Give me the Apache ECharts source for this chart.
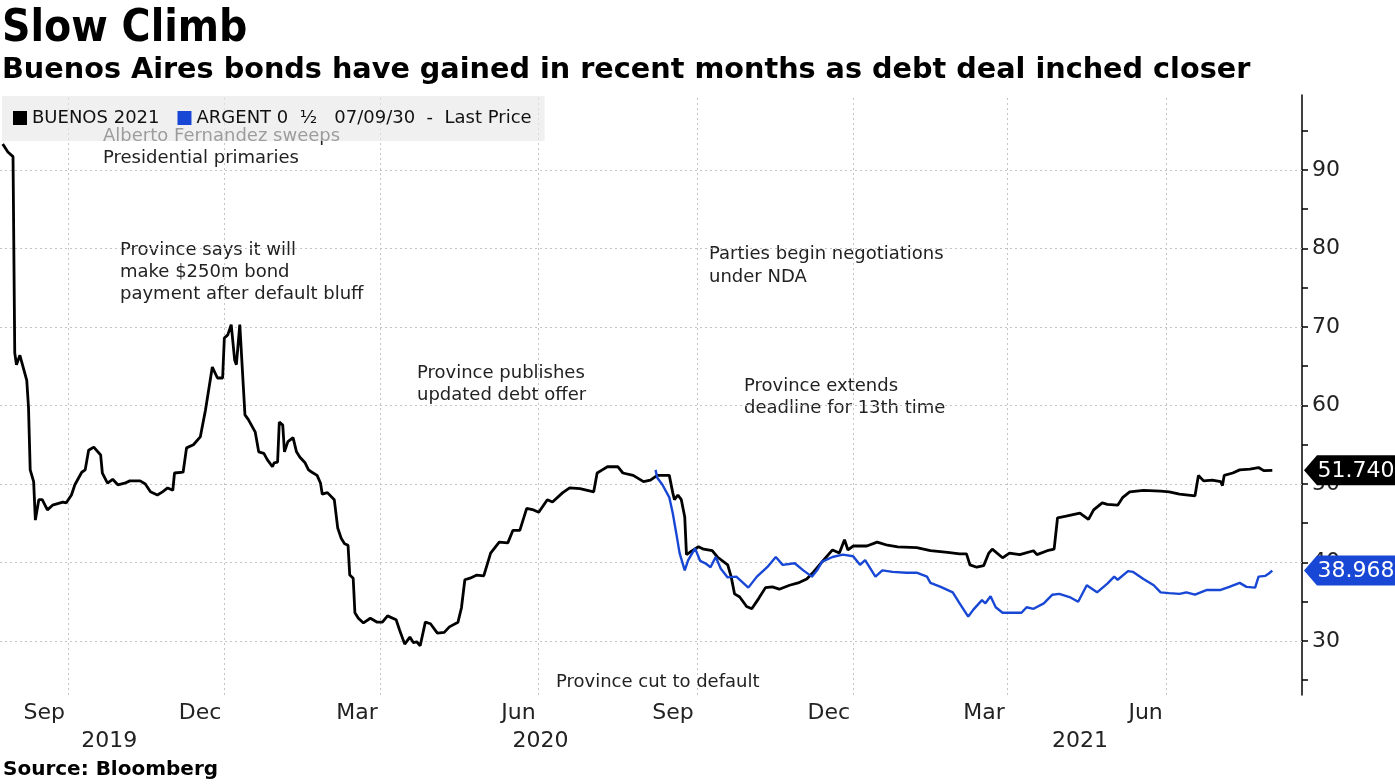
<!DOCTYPE html>
<html><head><meta charset="utf-8">
<script src="https://cdn.jsdelivr.net/npm/echarts@6/dist/echarts.min.js"></script>
<style>html,body{margin:0;padding:0;background:#fff}#c{width:1395px;height:784px}</style>
</head><body><div id="c"></div>
<script>
// ---------- DATA ----------
const buenosDates = [
'2019-07-25','2019-07-28','2019-07-31','2019-08-01','2019-08-02','2019-08-04','2019-08-08','2019-08-09','2019-08-10','2019-08-12',
'2019-08-13','2019-08-15','2019-08-17','2019-08-20','2019-08-23','2019-08-29','2019-08-31','2019-09-03','2019-09-05','2019-09-09',
'2019-09-11','2019-09-13','2019-09-16','2019-09-20','2019-09-21','2019-09-24','2019-09-27','2019-09-30','2019-10-04','2019-10-07',
'2019-10-13','2019-10-16','2019-10-19','2019-10-23','2019-10-26','2019-10-29','2019-11-01','2019-11-02','2019-11-07','2019-11-09',
'2019-11-13','2019-11-17','2019-11-20','2019-11-21','2019-11-24','2019-11-27','2019-11-30','2019-12-01','2019-12-03','2019-12-05',
'2019-12-07','2019-12-08','2019-12-10','2019-12-13','2019-12-15','2019-12-19','2019-12-21','2019-12-24','2019-12-26','2019-12-29',
'2019-12-30','2020-01-01','2020-01-02','2020-01-04','2020-01-05','2020-01-07','2020-01-10','2020-01-12','2020-01-14','2020-01-17',
'2020-01-19','2020-01-21','2020-01-24','2020-01-26','2020-01-27','2020-01-30','2020-02-03','2020-02-05','2020-02-07','2020-02-09',
'2020-02-11','2020-02-12','2020-02-14','2020-02-15','2020-02-17','2020-02-20','2020-02-24','2020-02-28','2020-03-02','2020-03-05',
'2020-03-10','2020-03-12','2020-03-15','2020-03-18','2020-03-20','2020-03-22','2020-03-24','2020-03-27','2020-03-30','2020-04-03',
'2020-04-07','2020-04-10','2020-04-15','2020-04-17','2020-04-19','2020-04-22','2020-04-26','2020-04-30','2020-05-04','2020-05-09',
'2020-05-14','2020-05-17','2020-05-21','2020-05-25','2020-05-29','2020-06-01','2020-06-06','2020-06-09','2020-06-15','2020-06-19',
'2020-06-25','2020-07-03','2020-07-05','2020-07-08','2020-07-11','2020-07-17','2020-07-20','2020-07-26','2020-08-01','2020-08-05',
'2020-08-09','2020-08-16','2020-08-18','2020-08-19','2020-08-21','2020-08-23','2020-08-25','2020-08-26','2020-08-28','2020-09-02',
'2020-09-05','2020-09-10','2020-09-13','2020-09-19','2020-09-21','2020-09-23','2020-09-26','2020-09-30','2020-10-03','2020-10-07',
'2020-10-11','2020-10-15','2020-10-19','2020-10-25','2020-10-30','2020-11-04','2020-11-08','2020-11-13','2020-11-19','2020-11-23',
'2020-11-26','2020-11-28','2020-12-01','2020-12-09','2020-12-15','2020-12-21','2020-12-27','2021-01-07','2021-01-15','2021-01-25',
'2021-02-01','2021-02-05','2021-02-07','2021-02-11','2021-02-15','2021-02-18','2021-02-20','2021-02-26','2021-03-02','2021-03-08',
'2021-03-16','2021-03-18','2021-03-24','2021-03-28','2021-03-30','2021-04-04','2021-04-12','2021-04-17','2021-04-20','2021-04-25',
'2021-04-28','2021-05-04','2021-05-07','2021-05-11','2021-05-19','2021-05-29','2021-06-03','2021-06-09','2021-06-18','2021-06-20',
'2021-06-23','2021-06-28','2021-07-03','2021-07-04','2021-07-05','2021-07-10','2021-07-14','2021-07-20','2021-07-25','2021-07-28',
'2021-08-02'
];
const buenosValues = [
93.3,92.3,91.7,66.7,65.2,66.4,63.2,59.8,51.8,50.3,
45.4,48.0,48.0,46.7,47.3,47.7,47.6,48.6,49.9,51.5,
51.8,54.3,54.7,53.7,51.4,50.1,50.6,49.9,50.1,50.4,
50.4,50.0,49.0,48.6,49.0,49.5,49.2,51.4,51.5,54.6,
55.0,56.0,59.4,59.2,64.9,63.5,63.5,68.6,69.0,70.3,
65.8,65.2,70.3,58.8,58.2,56.6,54.1,53.9,53.1,52.2,
52.7,52.8,57.9,57.5,54.1,55.4,55.9,54.1,53.4,52.7,
51.8,51.5,51.1,50.1,48.7,48.9,48.0,44.4,43.1,42.4,
42.2,38.4,38.0,33.6,32.9,32.3,32.9,32.4,32.4,33.2,
32.7,31.4,29.6,30.5,29.8,29.9,29.4,32.4,32.2,31.0,
31.1,31.8,32.4,34.2,37.8,38.0,38.4,38.3,41.2,42.6,
42.5,44.1,44.1,46.9,46.7,46.4,48.0,47.7,48.9,49.5,
49.4,49.0,51.4,51.8,52.2,52.2,51.4,51.1,50.3,50.5,
51.1,51.1,48.9,48.0,48.6,48.0,45.8,41.0,41.3,42.0,
41.7,41.5,40.7,39.7,38.2,36.0,35.6,34.4,34.1,35.4,
36.8,36.9,36.6,37.1,37.4,37.9,38.8,40.1,41.6,41.2,
42.9,41.6,42.1,42.1,42.6,42.2,42.0,41.9,41.5,41.3,
41.1,41.1,39.7,39.4,39.6,41.2,41.7,40.6,41.2,41.0,
41.5,41.0,41.5,41.7,45.7,45.9,46.3,45.5,46.7,47.6,
47.4,47.3,48.3,49.0,49.2,49.1,49.0,48.7,48.5,51.1,
50.4,50.5,50.3,49.8,51.1,51.4,51.8,51.9,52.1,51.7,
51.74
];
const argentDates = [
'2020-08-08','2020-08-09','2020-08-12','2020-08-16','2020-08-18','2020-08-20','2020-08-22','2020-08-25','2020-08-27','2020-08-31',
'2020-09-03','2020-09-06','2020-09-09','2020-09-12','2020-09-15','2020-09-19','2020-09-24','2020-09-28','2020-10-01','2020-10-06',
'2020-10-12','2020-10-17','2020-10-21','2020-10-28','2020-11-02','2020-11-07','2020-11-10','2020-11-13','2020-11-19','2020-11-25',
'2020-12-01','2020-12-05','2020-12-08','2020-12-14','2020-12-18','2020-12-24','2021-01-01','2021-01-07','2021-01-13','2021-01-15',
'2021-01-21','2021-01-28','2021-02-01','2021-02-06','2021-02-09','2021-02-14','2021-02-16','2021-02-19','2021-02-22','2021-02-26',
'2021-03-04','2021-03-09','2021-03-12','2021-03-16','2021-03-22','2021-03-27','2021-03-31','2021-04-06','2021-04-11','2021-04-16',
'2021-04-22','2021-04-28','2021-05-02','2021-05-04','2021-05-10','2021-05-13','2021-05-19','2021-05-25','2021-05-29','2021-06-03',
'2021-06-09','2021-06-13','2021-06-18','2021-06-25','2021-07-03','2021-07-08','2021-07-14','2021-07-18','2021-07-23','2021-07-25',
'2021-07-29','2021-07-31','2021-08-02'
];
const argentValues = [
51.8,50.8,49.9,48.3,46.3,43.8,41.2,39.0,40.3,41.8,
40.2,39.9,39.4,40.7,39.2,38.1,38.2,37.4,36.8,38.2,
39.4,40.7,39.7,39.9,39.0,38.2,39.0,40.1,40.7,41.0,
40.8,39.7,40.3,38.2,39.0,38.8,38.7,38.7,38.2,37.4,
36.9,36.2,34.8,33.1,34.0,35.2,34.8,35.7,34.3,33.6,
33.6,33.6,34.3,34.1,34.8,35.9,36.0,35.6,35.0,37.1,
36.2,37.3,38.2,37.8,38.9,38.8,37.9,37.1,36.2,36.1,
36.0,36.2,35.9,36.5,36.5,36.9,37.4,36.9,36.8,38.2,
38.3,38.6,38.968
];
const monthTicks = ['2019-09-01','2019-12-01','2020-03-01','2020-06-01','2020-09-01','2020-12-01','2021-03-01','2021-06-01'];
const monthNames = ['Jan','Feb','Mar','Apr','May','Jun','Jul','Aug','Sep','Oct','Nov','Dec'];
const yearLabelDates = ['2019-09-25','2020-06-02','2021-04-12'];
const yMajorTicks = [30,40,50,60,70,80,90];
const yMinorTicks = [25,30,35,40,45,50,55,60,65,70,75,80,85,90,95];
const seriesNames = ['BUENOS 2021','ARGENT 0  \u00BD   07/09/30  -  Last Price'];

// ---------- CHART ----------
const FONT = "'DejaVu Sans', Verdana, sans-serif";
function ts(s) {
  const parts = s.split(' ');
  const d = parts[0].split('-').map(Number);
  let h = 0, mi = 0;
  if (parts[1]) { const t = parts[1].split(':').map(Number); h = t[0]; mi = t[1]; }
  return Date.UTC(d[0], d[1] - 1, d[2], h, mi);
}
const xMin = ts('2019-07-23 10:00'), xMax = ts('2021-08-19 07:00');
const yMin = 23.121, yMax = 99.554;
const BLUE = '#1747d4';

function tag(color, val) {
  return {
    symbol: 'path://M0,15L13,0L92,0L92,30L13,30Z',
    symbolSize: [92, 30], symbolKeepAspect: false, symbolOffset: [48, 0],
    itemStyle: { color: color },
    label: { show: true, position: 'inside', offset: [6, 1], color: '#fff', fontSize: 22, fontFamily: FONT,
             formatter: () => val.toFixed(3) },
    data: [{ coord: [xMax, val], value: val }]
  };
}

const chart = echarts.init(document.getElementById('c'), null, { renderer: 'canvas' });
chart.setOption({
  animation: false,
  backgroundColor: '#fff',
  textStyle: { fontFamily: FONT },
  grid: { left: 0, right: 93, top: 95, bottom: 89, containLabel: false },
  legend: {
    data: seriesNames, left: 2, top: 96, z: 10,
    backgroundColor: 'rgba(230,230,230,0.62)', padding: [13, 13, 14, 11],
    icon: 'rect', itemWidth: 14, itemHeight: 14, itemGap: 18,
    textStyle: { fontSize: 18, color: '#111', fontFamily: FONT }
  },
  xAxis: [{
    type: 'value', min: xMin, max: xMax, position: 'bottom',
    axisLine: { show: false }, axisTick: { show: false }, splitLine: { show: false },
    axisLabel: { customValues: monthTicks.map(ts), align: 'right', padding: [0, 3, 0, 0], margin: 7,
      fontSize: 22, color: '#222', fontFamily: FONT,
      formatter: v => monthNames[new Date(v).getUTCMonth()] }
  }, {
    type: 'value', min: xMin, max: xMax, position: 'bottom', offset: 28,
    axisLine: { show: false }, axisTick: { show: false }, splitLine: { show: false },
    axisLabel: { customValues: yearLabelDates.map(ts), align: 'center', margin: 7,
      fontSize: 22, color: '#222', fontFamily: FONT,
      formatter: v => String(new Date(v).getUTCFullYear()) }
  }],
  yAxis: [{
    type: 'value', position: 'right', min: yMin, max: yMax,
    axisLine: { show: true, lineStyle: { color: '#000', width: 1.5 } },
    axisTick: { show: true, customValues: yMinorTicks, length: 6, lineStyle: { color: '#000', width: 1.5 } },
    splitLine: { show: false },
    axisLabel: { customValues: yMajorTicks, margin: 10, fontSize: 22, color: '#222', fontFamily: FONT }
  }],
  series: [{
    name: seriesNames[0], type: 'line', xAxisIndex: 0, yAxisIndex: 0,
    data: buenosDates.map((d, i) => [ts(d), buenosValues[i]]),
    showSymbol: false, symbol: 'none', z: 3,
    lineStyle: { color: '#000', width: 2.8 }, itemStyle: { color: '#000' },
    markLine: {
      silent: true, z: 1, symbol: ['none', 'none'], label: { show: false },
      lineStyle: { color: '#c4c4c4', type: [2, 3], width: 1 },
      data: yMajorTicks.map(v => ({ yAxis: v })).concat(monthTicks.map(d => ({ xAxis: ts(d) })))
    },
    markPoint: tag('#000', buenosValues[buenosValues.length - 1])
  }, {
    name: seriesNames[1], type: 'line', xAxisIndex: 0, yAxisIndex: 0,
    data: argentDates.map((d, i) => [ts(d), argentValues[i]]),
    showSymbol: false, symbol: 'none', z: 4,
    lineStyle: { color: BLUE, width: 2.4 }, itemStyle: { color: BLUE },
    markPoint: tag(BLUE, argentValues[argentValues.length - 1])
  }],
  graphic: [
    { type: 'text', left: 2, top: 8, z: 0, style: { text: 'Slow Climb', font: "bold 44px 'DejaVu Sans Condensed', 'DejaVu Sans'", fill: '#000' } },
    { type: 'text', left: 2, top: 56, z: 0, style: { text: 'Buenos Aires bonds have gained in recent months as debt deal inched closer', font: "bold 28.7px 'DejaVu Sans'", fill: '#000' } },
    { type: 'text', left: 3, top: 760, z: 0, style: { text: 'Source: Bloomberg', font: "bold 20px 'DejaVu Sans'", fill: '#000' } },
    { type: 'text', left: 103, top: 125, z: 0, style: { text: 'Alberto Fernandez sweeps\nPresidential primaries', font: "18px 'DejaVu Sans'", lineHeight: 22, fill: '#222' } },
    { type: 'text', left: 120, top: 239, z: 0, style: { text: 'Province says it will\nmake $250m bond\npayment after default bluff', font: "18px 'DejaVu Sans'", lineHeight: 22, fill: '#222' } },
    { type: 'text', left: 417, top: 362, z: 0, style: { text: 'Province publishes\nupdated debt offer', font: "18px 'DejaVu Sans'", lineHeight: 22, fill: '#222' } },
    { type: 'text', left: 709, top: 243, z: 0, style: { text: 'Parties begin negotiations\nunder NDA', font: "18px 'DejaVu Sans'", lineHeight: 23, fill: '#222' } },
    { type: 'text', left: 744, top: 375, z: 0, style: { text: 'Province extends\ndeadline for 13th time', font: "18px 'DejaVu Sans'", lineHeight: 22, fill: '#222' } },
    { type: 'text', left: 556, top: 671, z: 0, style: { text: 'Province cut to default', font: "18px 'DejaVu Sans'", lineHeight: 22, fill: '#222' } }
  ]
});
</script></body></html>
